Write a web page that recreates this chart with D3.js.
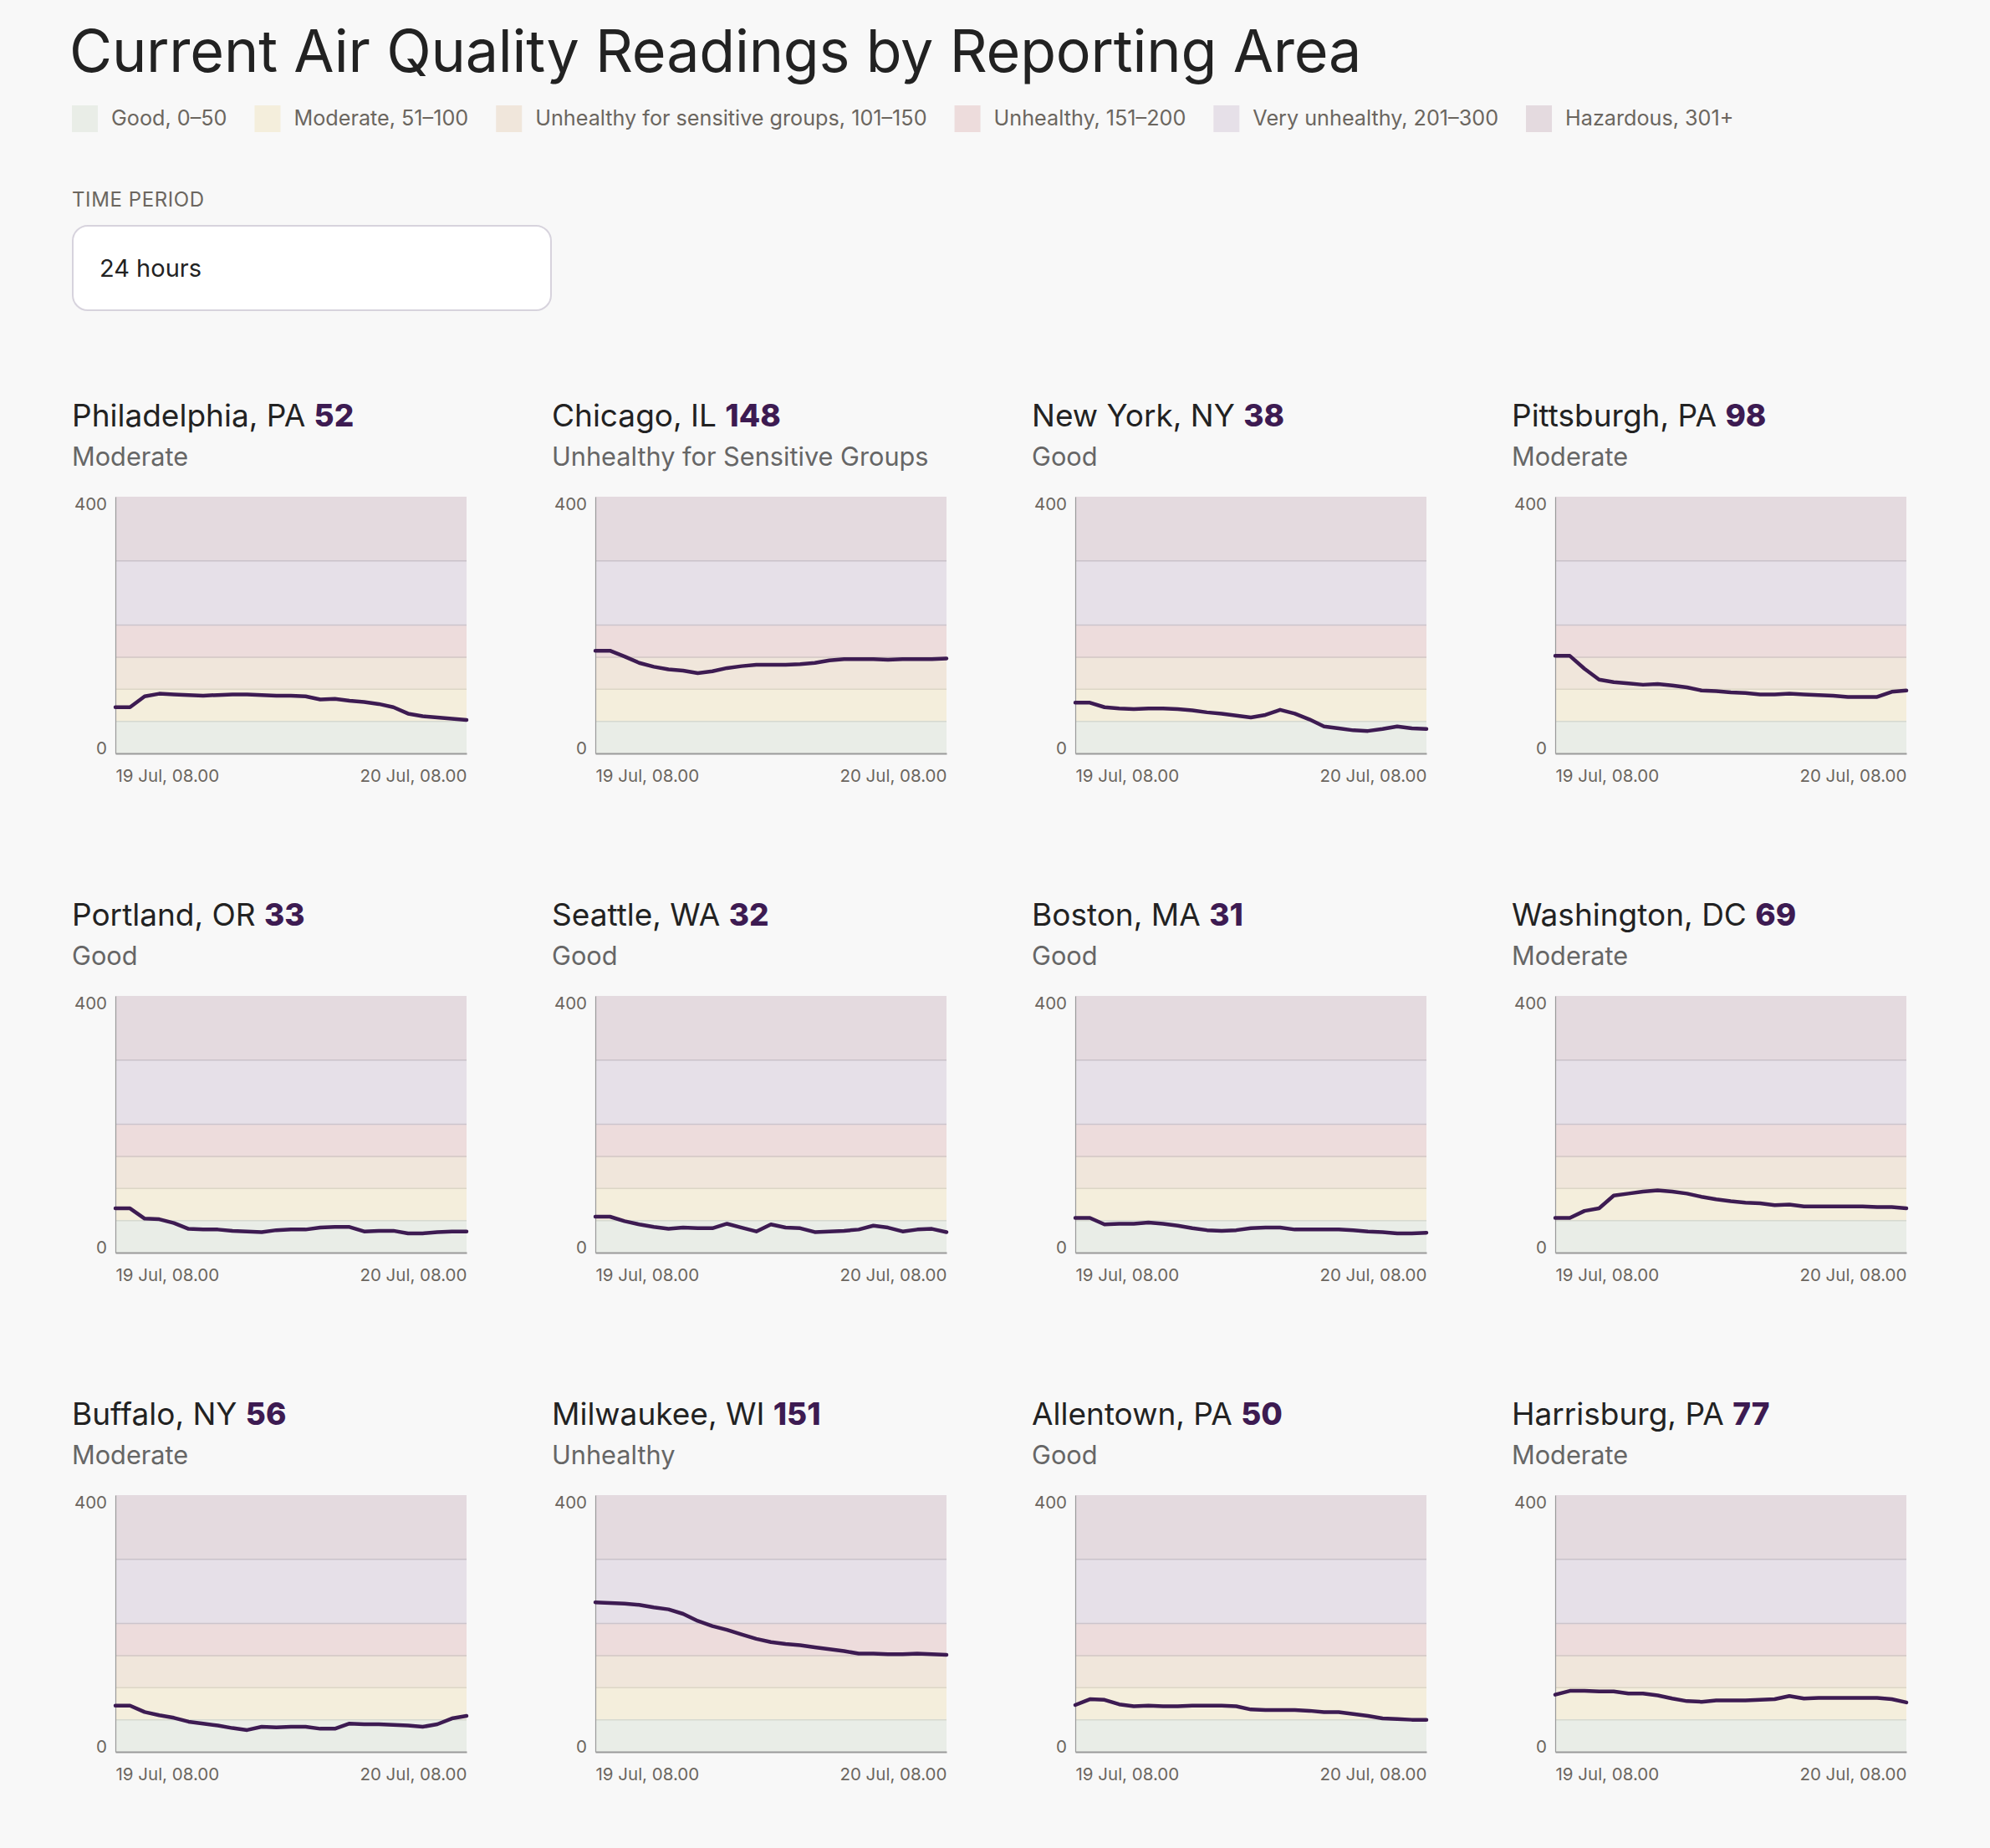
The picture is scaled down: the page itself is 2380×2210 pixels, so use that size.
<!DOCTYPE html>
<html>
<head>
<meta charset="utf-8">
<script src="https://cdn.jsdelivr.net/npm/d3@7"></script>
<style>
  body { margin: 0; background: #f8f8f8; }
  svg text { font-family: Inter, "Noto Sans", sans-serif; }
</style>
</head>
<body>
<div id="chart-area"></div>
<script>
let width = 2380,
    height = 2210;

// AQI bands
let bandNames = ['Good, 0–50', 'Moderate, 51–100', 'Unhealthy for sensitive groups, 101–150',
                 'Unhealthy, 151–200', 'Very unhealthy, 201–300', 'Hazardous, 301+'];
let bandLimits = [0, 50, 100, 150, 200, 300, 400];
let bandColors = ['#e9ede7', '#f4eedc', '#f0e6db', '#eddcdc', '#e6e0e8', '#e4dadf'];
let bandLines = ['#d6d9d0', '#dcd6c6', '#d2c6c4', '#ccc4cc', '#c9c2c9'];

// readings, 25 hourly values from 19 Jul 08.00 to 20 Jul 08.00
let cities = ['Philadelphia, PA', 'Chicago, IL', 'New York, NY', 'Pittsburgh, PA',
              'Portland, OR', 'Seattle, WA', 'Boston, MA', 'Washington, DC',
              'Buffalo, NY', 'Milwaukee, WI', 'Allentown, PA', 'Harrisburg, PA'];
let categories = ['Moderate', 'Unhealthy for Sensitive Groups', 'Good', 'Moderate',
                  'Good', 'Good', 'Good', 'Moderate',
                  'Moderate', 'Unhealthy', 'Good', 'Moderate'];

let philadelphia = [72, 72, 89, 93, 92, 91, 90, 91, 92, 92, 91, 90, 90, 89, 84, 85, 82, 80, 77, 72, 62, 58, 56, 54, 52];
let chicago = [160, 160, 151, 141, 135, 131, 129, 125, 128, 133, 136, 138, 138, 138, 139, 141, 145, 147, 147, 147, 146, 147, 147, 147, 148];
let newYork = [79, 79, 72, 70, 69, 70, 70, 69, 67, 64, 62, 59, 56, 60, 68, 62, 53, 42, 39, 36, 35, 38, 42, 39, 38];
let pittsburgh = [152, 152, 132, 115, 111, 109, 107, 108, 106, 103, 98, 97, 95, 94, 92, 92, 93, 92, 91, 90, 88, 88, 88, 96, 98];
let portland = [69, 69, 53, 52, 46, 37, 36, 36, 34, 33, 32, 35, 36, 36, 39, 40, 40, 33, 34, 34, 30, 30, 32, 33, 33];
let seattle = [56, 56, 49, 44, 40, 37, 39, 38, 38, 45, 39, 33, 44, 39, 38, 32, 33, 34, 36, 42, 39, 33, 36, 37, 32];
let boston = [54, 54, 44, 45, 45, 47, 45, 42, 38, 35, 34, 35, 38, 39, 39, 36, 36, 36, 36, 35, 33, 32, 30, 30, 31];
let washington = [54, 54, 65, 69, 89, 92, 95, 97, 95, 92, 87, 83, 80, 78, 77, 74, 75, 72, 72, 72, 72, 72, 71, 71, 69];
let buffalo = [72, 72, 62, 57, 53, 47, 44, 41, 37, 34, 39, 38, 39, 39, 36, 36, 44, 43, 43, 42, 41, 39, 43, 52, 56];
let milwaukee = [233, 232, 231, 229, 225, 222, 215, 204, 196, 190, 183, 176, 171, 168, 166, 163, 160, 157, 153, 153, 152, 152, 153, 152, 151];
let allentown = [73, 82, 81, 74, 71, 72, 71, 71, 72, 72, 72, 71, 66, 65, 65, 65, 64, 62, 62, 59, 56, 52, 51, 50, 50];
let harrisburg = [89, 95, 95, 94, 94, 91, 91, 88, 83, 79, 78, 80, 80, 80, 81, 82, 87, 83, 84, 84, 84, 84, 84, 82, 77];

let series = [philadelphia, chicago, newYork, pittsburgh, portland, seattle,
              boston, washington, buffalo, milwaukee, allentown, harrisburg];

let startTime = new Date(2023, 6, 19, 8),
    endTime = new Date(2023, 6, 20, 8);
let hours = d3.timeHour.range(startTime, d3.timeHour.offset(endTime, 1));
let timeLabels = ['19 Jul, 08.00', '20 Jul, 08.00'];

let svg = d3.select('#chart-area').append('svg')
  .attr('width', width)
  .attr('height', height);

// title
svg.append('text')
  .attr('x', 83).attr('y', 86)
  .attr('font-size', 70)
  .attr('letter-spacing', -0.2)
  .attr('fill', '#222')
  .text('Current Air Quality Readings by Reporting Area');

// legend
let lx = 86;
bandNames.forEach((name, i) => {
  svg.append('rect')
    .attr('x', lx).attr('y', 126)
    .attr('width', 31).attr('height', 32)
    .attr('fill', bandColors[i]);
  let t = svg.append('text')
    .attr('x', lx + 47).attr('y', 150)
    .attr('font-size', 25.2)
    .attr('fill', '#6b665f')
    .text(name);
  lx += 47 + t.node().getComputedTextLength() + 33;
});

// time period selector
svg.append('text')
  .attr('x', 86).attr('y', 247)
  .attr('font-size', 24)
  .attr('letter-spacing', 0.6)
  .attr('fill', '#6b665f')
  .text('TIME PERIOD');

svg.append('rect')
  .attr('x', 87).attr('y', 270)
  .attr('width', 572).attr('height', 101)
  .attr('rx', 18)
  .attr('fill', '#fff')
  .attr('stroke', '#d7d3dd')
  .attr('stroke-width', 2);

svg.append('text')
  .attr('x', 119).attr('y', 331)
  .attr('font-size', 29)
  .attr('fill', '#222')
  .text('24 hours');

// small multiples
let plotW = 420, plotH = 307;

let x = d3.scaleTime()
  .domain([startTime, endTime])
  .range([0, plotW]);

let y = d3.scaleLinear()
  .domain([0, 400])
  .range([plotH, 0]);

let line = d3.line()
  .x((d, i) => x(hours[i]))
  .y(d => y(d));

cities.forEach((city, k) => {
  let col = k % 4, row = Math.floor(k / 4);
  let x0 = 86 + col * 574,
      y0 = 594 + row * 597;
  let vals = series[k];

  let head = svg.append('text')
    .attr('x', x0).attr('y', y0 - 84)
    .attr('font-size', 37)
    .attr('fill', '#222');
  head.append('tspan').text(city + ' ');
  head.append('tspan')
    .attr('font-weight', 800)
    .attr('fill', '#3d1b52')
    .text(vals[vals.length - 1]);

  svg.append('text')
    .attr('x', x0).attr('y', y0 - 37)
    .attr('font-size', 30.7)
    .attr('fill', '#666')
    .text(categories[k]);

  let g = svg.append('g')
    .attr('transform', `translate(${x0 + 52},${y0})`);

  g.selectAll('.band')
    .data(bandColors)
    .enter().append('rect')
    .attr('class', 'band')
    .attr('x', 0)
    .attr('width', plotW)
    .attr('y', (d, i) => y(bandLimits[i + 1]))
    .attr('height', (d, i) => y(bandLimits[i]) - y(bandLimits[i + 1]))
    .attr('fill', d => d);

  g.selectAll('.bandline')
    .data(bandLimits.slice(1, -1))
    .enter().append('line')
    .attr('class', 'bandline')
    .attr('x1', 0).attr('x2', plotW)
    .attr('y1', d => y(d)).attr('y2', d => y(d))
    .attr('stroke', (d, i) => bandLines[i])
    .attr('stroke-width', 1.5);

  // y axis
  let yAxis = g.append('g')
    .call(d3.axisLeft(y).tickValues([0, 400]).tickSize(0).tickPadding(10));
  yAxis.select('.domain').attr('stroke', '#9a9a9a').attr('stroke-width', 1.2);
  yAxis.selectAll('text')
    .attr('font-size', 20.5)
    .attr('fill', '#6b665f')
    .attr('font-family', 'Inter, sans-serif')
    .attr('dy', (d) => d === 400 ? '0.76em' : '0em');

  // x axis
  let xAxis = g.append('g')
    .attr('transform', `translate(0,${plotH})`)
    .call(d3.axisBottom(x).tickValues([startTime, endTime])
      .tickFormat((d, i) => timeLabels[i]).tickSize(0).tickPadding(19));
  xAxis.select('.domain').attr('stroke', '#9a9a9a').attr('stroke-width', 2);
  xAxis.selectAll('text')
    .attr('font-size', 20.5)
    .attr('fill', '#6b665f')
    .attr('font-family', 'Inter, sans-serif')
    .attr('text-anchor', (d, i) => i === 0 ? 'start' : 'end');

  g.append('path')
    .datum(vals)
    .attr('d', line)
    .attr('fill', 'none')
    .attr('stroke', '#3d1b52')
    .attr('stroke-width', 4.5)
    .attr('stroke-linejoin', 'round')
    .attr('stroke-linecap', 'round');
});
</script>
</body>
</html>
